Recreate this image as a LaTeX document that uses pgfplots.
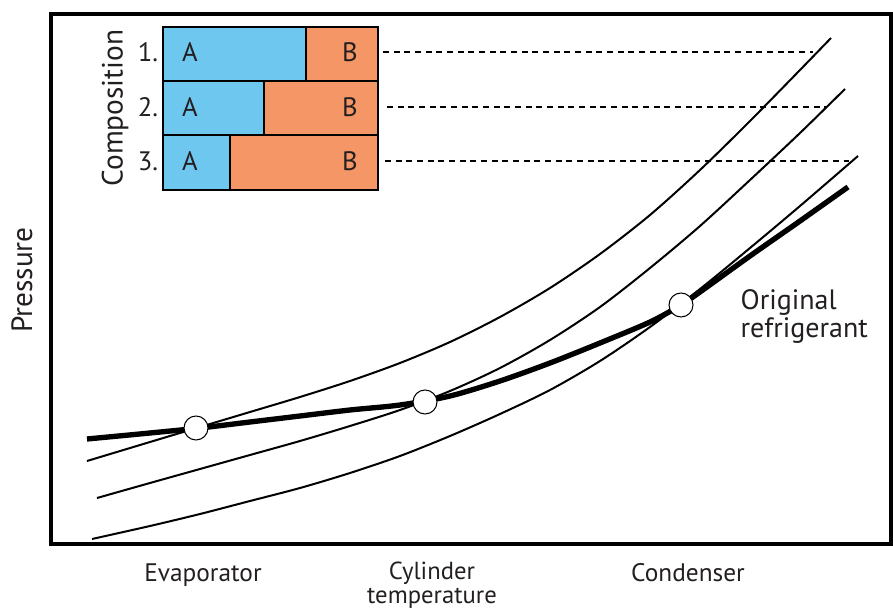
\documentclass[border=0pt]{standalone}
\usepackage{pgfplots}
\pgfplotsset{compat=1.18}
\usepackage{fontspec}
\setmainfont{PT Sans}
\definecolor{compA}{RGB}{110,199,238}
\definecolor{compB}{RGB}{245,150,103}
\definecolor{txt}{RGB}{35,31,32}
\begin{document}
\begin{tikzpicture}
\begin{axis}[
  x=0.75pt, y=0.75pt,
  xmin=50.5, xmax=891, ymin=66, ymax=596,
  xtick=\empty, ytick=\empty,
  axis line style={line width=3pt},
  clip=false,
]
% composition bars
\addplot[fill=compA, draw=black, line width=0.8pt] coordinates {(163,583)(306,583)(306,529)(163,529)} --cycle;
\addplot[fill=compB, draw=black, line width=0.8pt] coordinates {(306,583)(378,583)(378,529)(306,529)} --cycle;
\addplot[fill=compA, draw=black, line width=0.8pt] coordinates {(163,529)(264,529)(264,475)(163,475)} --cycle;
\addplot[fill=compB, draw=black, line width=0.8pt] coordinates {(264,529)(378,529)(378,475)(264,475)} --cycle;
\addplot[fill=compA, draw=black, line width=0.8pt] coordinates {(163,475)(230,475)(230,420)(163,420)} --cycle;
\addplot[fill=compB, draw=black, line width=0.8pt] coordinates {(230,475)(378,475)(378,420)(230,420)} --cycle;
% dashed lines
\addplot[black, line width=1.1pt, dash pattern=on 4.5pt off 3.5pt] coordinates {(383,558)(813,558)};
\addplot[black, line width=1.1pt, dash pattern=on 4.5pt off 3.5pt] coordinates {(387,503)(827,503)};
\addplot[black, line width=1.1pt, dash pattern=on 4.5pt off 3.5pt] coordinates {(385,449)(849,449)};
% composition curves
\addplot[black, line width=1.5pt, smooth] coordinates {(87,149)(150,168)(200,183)(250,198)(300,213)(350,229)(400,247)(450,268)(500,293)(550,322)(600,356)(650,395)(700,440)(750,489)(800,540)(831,572)};
\addplot[black, line width=1.5pt, smooth] coordinates {(97,112)(150,127)(200,141)(250,155)(300,169)(350,184)(400,200)(450,219)(500,242)(550,270)(600,303)(650,342)(700,384)(750,430)(800,477)(845,521)};
\addplot[black, line width=1.5pt, smooth] coordinates {(92,71)(150,84)(200,96)(250,109)(300,122)(350,137)(400,154)(450,174)(500,196)(550,220)(600,249)(650,283)(700,321)(750,362)(800,404)(858,454)};
% original refrigerant
\addplot[black, line width=4pt, smooth] coordinates {(87,171)(150,177)(200,182)(250,188)(300,194)(350,200)(400,205)(450,214)(500,229)(550,247)(600,267)(650,288)(681,305)(700,318)(750,354)(800,389)(848,423)};
% state points
\addplot[only marks, mark=*, mark size=9pt, mark options={fill=white, draw=black, line width=0.8pt}] coordinates {(196,182)(425,208)(681,305)};
% texts
\node[txt, font=\fontsize{20}{24}\selectfont] at (axis cs:148,558) {1.};
\node[txt, font=\fontsize{20}{24}\selectfont] at (axis cs:148,503) {2.};
\node[txt, font=\fontsize{20}{24}\selectfont] at (axis cs:148,449) {3.};
\node[txt, font=\fontsize{20}{24}\selectfont] at (axis cs:190,558) {A};
\node[txt, font=\fontsize{20}{24}\selectfont] at (axis cs:190,503) {A};
\node[txt, font=\fontsize{20}{24}\selectfont] at (axis cs:190,449) {A};
\node[txt, font=\fontsize{20}{24}\selectfont] at (axis cs:350,558) {B};
\node[txt, font=\fontsize{20}{24}\selectfont] at (axis cs:350,503) {B};
\node[txt, font=\fontsize{20}{24}\selectfont] at (axis cs:350,449) {B};
\node[txt, rotate=90, font=\fontsize{22}{26}\selectfont] at (axis cs:115,502) {Composition};
\node[txt, rotate=90, font=\fontsize{22}{26}\selectfont] at (axis cs:22,330) {Pressure};
\node[txt, anchor=base west, font=\fontsize{21}{25}\selectfont] at (axis cs:736,300) {Original};
\node[txt, anchor=base west, font=\fontsize{21}{25}\selectfont] at (axis cs:736,272) {refrigerant};
\node[txt, anchor=base, font=\fontsize{19}{23}\selectfont] at (axis cs:203,28) {Evaporator};
\node[txt, anchor=base, inner sep=0pt, font=\fontsize{18.5}{22}\selectfont] at (axis cs:432,30) {Cylinder};
\node[txt, anchor=base, inner sep=0pt, font=\fontsize{18.5}{22}\selectfont] at (axis cs:432,6) {temperature};
\node[txt, anchor=base, font=\fontsize{19}{23}\selectfont] at (axis cs:688,28) {Condenser};
\coordinate (BBa) at (axis cs:0,0);
\coordinate (BBb) at (axis cs:893,610);
\end{axis}
\pgfresetboundingbox
\path[use as bounding box] (BBa) rectangle (BBb);
\end{tikzpicture}
\end{document}
